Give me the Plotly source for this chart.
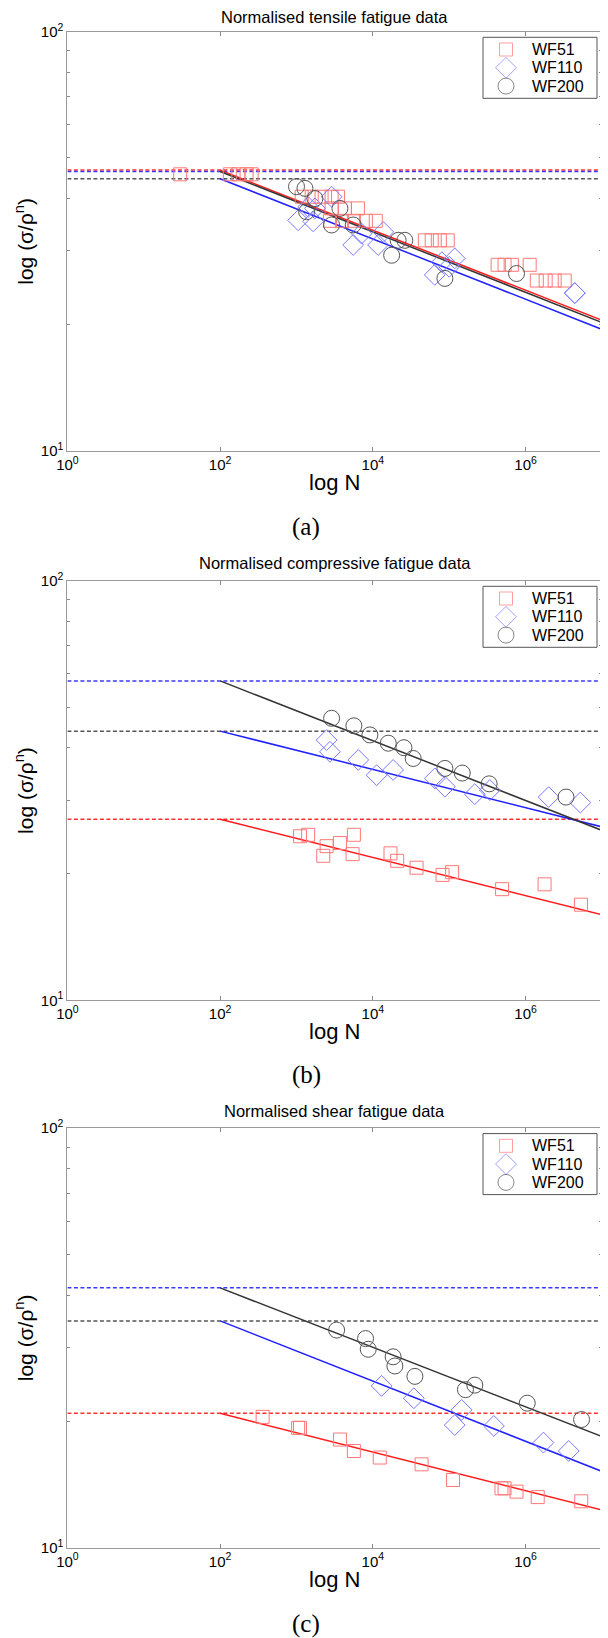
import plotly.graph_objects as go

W, H = 608, 1638
OFF = 8  # the html body margin shifts the figure by 8 px in the page

# ---- data: (N cycles, normalised stress) ----
ten_wf51_n = [30, 134, 173, 222, 258, 1170, 1580, 2130, 2880, 3500, 2880, 4300, 6370,
              2740, 3930, 5640, 8090, 10900, 47900, 58900, 75300, 95500,
              430000, 530000, 660000, 1130000, 1400000, 1830000, 2400000, 3250000]
ten_wf51_s = [45.7, 45.7, 45.7, 45.7, 45.7, 40.4, 40.4, 40.4, 40.4, 40.4, 37.9, 37.9, 37.9,
              35.4, 35.4, 35.4, 35.4, 35.4, 31.8, 31.8, 31.8, 31.8,
              27.8, 27.8, 27.8, 27.8, 25.5, 25.5, 25.5, 25.5]
ten_wf110_n = [1050, 1650, 1420, 1740, 2880, 5520, 7110, 11700, 13650, 64600, 80000, 100000,
               118000, 4400000, 4400000]
ten_wf110_s = [35.5, 35.3, 38.2, 37.9, 40.4, 31.0, 33.0, 31.0, 33.3, 26.3, 28.2, 27.5,
               28.8, 23.8, 23.8]
ten_wf200_n = [1000, 1290, 1355, 1740, 2880, 3700, 5520, 17600, 21400, 26200, 87700, 760000]
ten_wf200_s = [42.7, 42.3, 37.2, 40.0, 34.6, 37.9, 34.6, 29.3, 31.8, 31.8, 25.8, 26.5]

com_wf51_n = [1110, 1420, 2480, 2240, 3700, 5640, 5420, 17000, 20800, 37300, 81700, 109000,
              492000, 1770000, 5300000]
com_wf51_s = [24.6, 24.8, 23.3, 22.1, 23.7, 24.8, 22.3, 22.4, 21.5, 20.7, 19.9, 20.2,
              18.4, 18.9, 16.9]
com_wf110_n = [2480, 2740, 6430, 11200, 18400, 64800, 87700, 216000, 340000, 2000000, 5200000]
com_wf110_s = [41.7, 39.1, 37.4, 34.4, 35.4, 33.8, 32.3, 31.0, 31.7, 30.5, 29.6]
com_wf200_n = [2880, 5640, 9140, 15900, 25500, 33700, 87700, 148000, 333000, 3380000]
com_wf200_s = [47.0, 45.1, 42.9, 41.0, 40.0, 37.7, 35.7, 34.8, 32.8, 30.5]

she_wf51_n = [360, 1050, 1110, 3700, 5640, 12300, 43400, 112000, 483000, 530000, 760000,
              1440000, 5350000]
she_wf51_s = [20.5, 19.3, 19.3, 18.1, 17.0, 16.4, 15.8, 14.5, 13.85, 13.85, 13.6, 13.2, 12.9]
she_wf110_n = [13000, 34400, 145000, 118000, 384000, 1710000, 3670000]
she_wf110_s = [24.3, 22.7, 21.3, 19.6, 19.5, 17.8, 17.0]
she_wf200_n = [3350, 8020, 8690, 18400, 19400, 35500, 163000, 216000, 1050000, 5400000]
she_wf200_s = [33.0, 31.5, 29.7, 28.5, 27.1, 25.6, 23.8, 24.4, 22.1, 20.2]

# fitted lines: start at N=1e2, end at N=1e7 (order WF51, WF110, WF200)
fit_n = [1e2, 1e7]
dash_n = [1e0, 1e7]
ten_fit_start = [46.76, 44.6, 46.4]
ten_fit_end = [20.5, 19.5, 20.25]
ten_dash = [46.76, 46.4, 44.6]      # red, blue, black dashed levels
com_fit_start = [27.0, 43.8, 57.7]
com_fit_end = [16.0, 25.9, 25.4]
com_dash = [27.0, 57.7, 43.8]
she_fit_start = [20.9, 34.7, 41.6]
she_fit_end = [12.3, 15.2, 18.4]
she_dash = [20.9, 41.6, 34.7]

titles = ["Normalised tensile fatigue data", "Normalised compressive fatigue data",
          "Normalised shear fatigue data"]
captions = ["(a)", "(b)", "(c)"]
names = ["WF51", "WF110", "WF200"]

x_ticks = [1, 1e2, 1e4, 1e6]
x_labels = ["10<sup>0</sup>", "10<sup>2</sup>", "10<sup>4</sup>", "10<sup>6</sup>"]
y_ticks = [10, 100]
y_labels = ["10<sup>1</sup>", "10<sup>2</sup>"]
y_minor = [20, 30, 40, 50, 60, 70, 80, 90]

panels = [
    dict(pts=[(ten_wf51_n, ten_wf51_s), (ten_wf110_n, ten_wf110_s), (ten_wf200_n, ten_wf200_s)],
         start=ten_fit_start, end=ten_fit_end, dash=ten_dash),
    dict(pts=[(com_wf51_n, com_wf51_s), (com_wf110_n, com_wf110_s), (com_wf200_n, com_wf200_s)],
         start=com_fit_start, end=com_fit_end, dash=com_dash),
    dict(pts=[(she_wf51_n, she_wf51_s), (she_wf110_n, she_wf110_s), (she_wf200_n, she_wf200_s)],
         start=she_fit_start, end=she_fit_end, dash=she_dash),
]

# page-pixel layout measured on the reference
panel_px = [(31.7, 451), (580.7, 1000.3), (1128, 1547.7)]
title_py = [17.5, 563, 1111]
caption_py = [527, 1075, 1624]
left_px, right_px = 67.4, 602
leg_left, leg_right, leg_gap, leg_h, row_h = 483, 597, 5.6, 61, 18.3
leg_sym_right, leg_text_x = 529, 530


def fx(px):
    return (px - OFF) / W


def fy(py):
    return 1 - (py - OFF) / H


marker_sym = ["square-open", "diamond-open", "circle-open"]
marker_size = [13, 16, 16]
marker_col = ["rgb(255,120,120)", "rgb(120,120,255)", "rgb(85,85,85)"]
line_col = ["#ff1a1a", "#2020ff", "#333333"]
dash_col = ["#ff3030", "#3a3aff", "#555555"]

font = "Liberation Sans, Arial, sans-serif"
fig = go.Figure()

for i, p in enumerate(panels):
    sfx = "" if i == 0 else str(i + 1)
    xa, ya = "x" + sfx, "y" + sfx
    lx, ly = "x" + str(i + 4), "y" + str(i + 4)
    # dashed levels across the full range
    for k in range(3):
        fig.add_trace(go.Scatter(x=dash_n, y=[p["dash"][k]] * 2, mode="lines",
                                 line=dict(color=dash_col[k], width=1.5, dash="4px,2.5px"),
                                 xaxis=xa, yaxis=ya, showlegend=False, hoverinfo="skip"))
    # solid fitted lines
    for k in range(3):
        fig.add_trace(go.Scatter(x=fit_n, y=[p["start"][k], p["end"][k]], mode="lines",
                                 line=dict(color=line_col[k], width=1.5),
                                 xaxis=xa, yaxis=ya, showlegend=False, hoverinfo="skip"))
    # data markers
    for k in range(3):
        n, s = p["pts"][k]
        fig.add_trace(go.Scatter(x=n, y=s, mode="markers", name=names[k],
                                 marker=dict(symbol=marker_sym[k], size=marker_size[k],
                                             color=marker_col[k], line=dict(width=1)),
                                 xaxis=xa, yaxis=ya, showlegend=False))
    # legend key symbols, one row per series on a small hidden axis pair
    fig.add_trace(go.Scatter(x=[0] * 3, y=names, mode="markers",
                             marker=dict(symbol=marker_sym, size=marker_size,
                                         color=marker_col, line=dict(width=1)),
                             xaxis=lx, yaxis=ly, showlegend=False, hoverinfo="skip"))

    top, bot = panel_px[i]
    leg_top = top + leg_gap
    rows_top = leg_top + (leg_h - 3 * row_h) / 2
    axis_common = dict(type="log", showgrid=False, zeroline=False, showline=True,
                       linecolor="#9a9a9a", linewidth=1, mirror="ticks", ticks="inside",
                       ticklen=4, tickcolor="#888888", automargin=False,
                       tickfont=dict(size=15, color="black"))
    fig.update_layout({
        "xaxis" + sfx: dict(axis_common, range=[0, 7], anchor=ya,
                            domain=[fx(left_px), fx(right_px)],
                            tickvals=x_ticks, ticktext=x_labels,
                            title=dict(text="log N", font=dict(size=22), standoff=2)),
        "yaxis" + sfx: dict(axis_common, range=[1, 2], anchor=xa,
                            domain=[fy(bot), fy(top)],
                            tickvals=y_ticks, ticktext=y_labels,
                            minor=dict(tickvals=y_minor, ticks="inside", ticklen=3,
                                       tickcolor="#888888"),
                            title=dict(text="log (σ/ρ<sup>n</sup>)", font=dict(size=21),
                                       standoff=1)),
        "xaxis" + str(i + 4): dict(domain=[fx(leg_left), fx(leg_sym_right)], range=[-1, 1],
                                   anchor=ly, visible=False, fixedrange=True),
        "yaxis" + str(i + 4): dict(domain=[fy(rows_top + 3 * row_h), fy(rows_top)],
                                   type="category", categoryorder="array",
                                   categoryarray=names, range=[2.5, -0.5],
                                   anchor=lx, visible=False, fixedrange=True),
    })
    # legend frame and labels
    fig.add_shape(type="rect", xref="paper", yref="paper",
                  x0=fx(leg_left), x1=fx(leg_right), y0=fy(leg_top + leg_h), y1=fy(leg_top),
                  line=dict(color="#555555", width=1), fillcolor="rgba(0,0,0,0)")
    for k in range(3):
        fig.add_annotation(text=names[k], xref="paper", yref="paper",
                           x=fx(leg_text_x), y=fy(rows_top + (k + 0.5) * row_h),
                           xanchor="left", yanchor="middle", showarrow=False,
                           font=dict(size=16, color="black"))
    fig.add_annotation(text=titles[i], xref="paper", yref="paper",
                       x=fx((left_px + right_px) / 2), y=fy(title_py[i]),
                       xanchor="center", yanchor="middle", showarrow=False,
                       font=dict(size=16.5, color="black"))
    fig.add_annotation(text=captions[i], xref="paper", yref="paper",
                       x=fx(306), y=fy(caption_py[i]), xanchor="center", yanchor="middle",
                       showarrow=False,
                       font=dict(size=25, color="black",
                                 family="Liberation Serif, Times New Roman, serif"))

fig.update_layout(width=W, height=H, margin=dict(l=0, r=0, t=0, b=0),
                  paper_bgcolor="white", plot_bgcolor="white", showlegend=False,
                  font=dict(family=font, color="black"))

fig.write_html("out.html")
